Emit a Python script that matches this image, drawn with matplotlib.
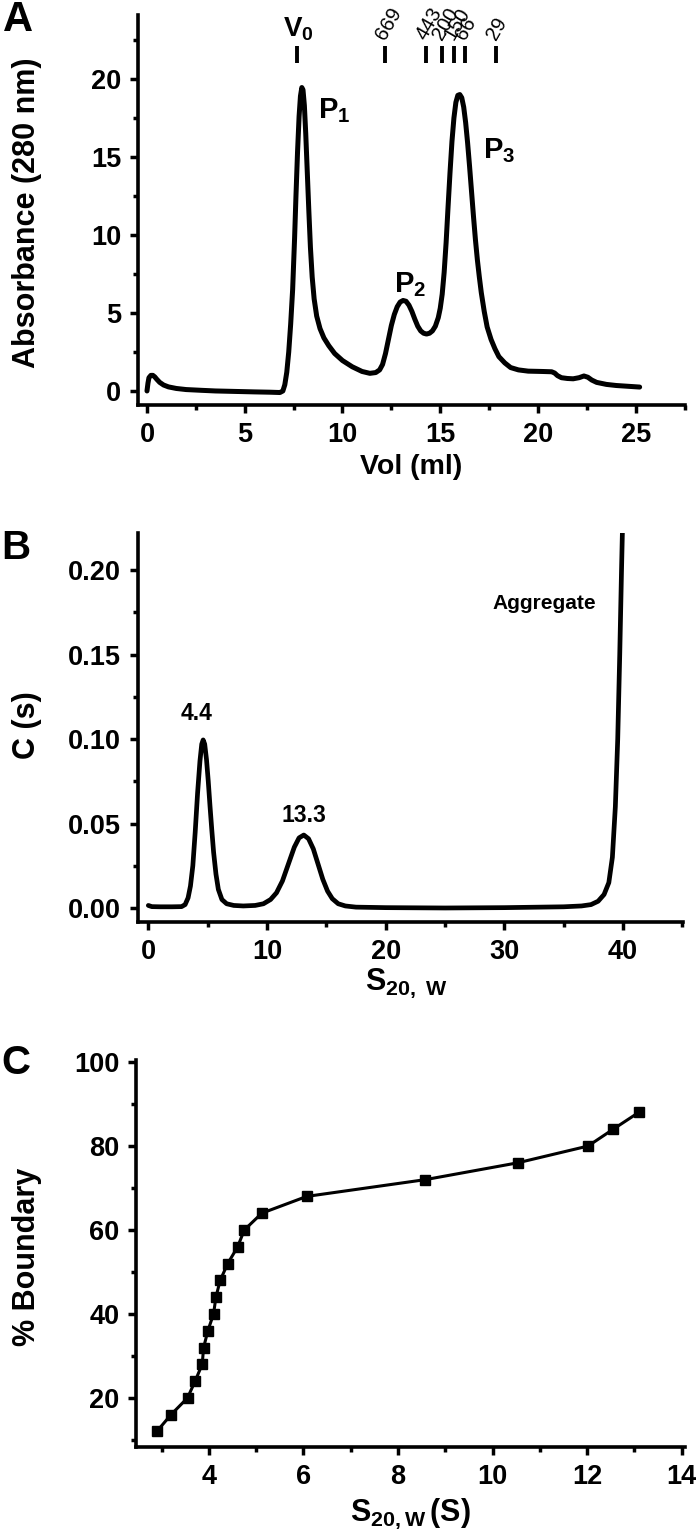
import matplotlib
matplotlib.use("Agg")
import matplotlib.pyplot as plt
from matplotlib.ticker import MultipleLocator, FormatStrFormatter

# ---- panel A : gel filtration profile ----
vol_ml = [0.0, 0.05, 0.1, 0.2, 0.3, 0.4, 0.5, 0.65, 0.85, 1.1, 1.5, 2.0, 2.8, 3.5, 4.5, 5.5, 6.3,
          6.8, 6.95, 7.05, 7.15, 7.25, 7.35, 7.45, 7.55, 7.62, 7.7, 7.78, 7.85, 7.92, 7.98,
          8.05, 8.12, 8.2, 8.28, 8.36, 8.45, 8.55, 8.68, 8.85, 9.05, 9.3, 9.6, 10.0, 10.5,
          11.0, 11.4, 11.7, 11.9, 12.05, 12.2, 12.35, 12.5, 12.65, 12.8, 12.95, 13.1, 13.25,
          13.4, 13.55, 13.7, 13.85, 14.0, 14.15, 14.3, 14.45, 14.6, 14.75, 14.9, 15.0, 15.1,
          15.2, 15.3, 15.4, 15.5, 15.6, 15.7, 15.8, 15.9, 16.0, 16.1, 16.2, 16.3, 16.4, 16.5,
          16.6, 16.7, 16.8, 16.9, 17.0, 17.1, 17.25, 17.4, 17.6, 17.8, 18.0, 18.3, 18.6, 19.0,
          19.5, 20.2, 20.7, 20.85, 21.0, 21.2, 21.5, 21.8, 22.1, 22.35, 22.55, 22.75, 23.0,
          23.5, 24.0, 24.6, 25.2]
absorbance = [0.0, 0.5, 0.85, 1.0, 1.0, 0.9, 0.75, 0.55, 0.38, 0.26, 0.16, 0.09, 0.04, 0.0, -0.03,
              -0.06, -0.08, -0.1, 0.0, 0.4, 1.2, 2.5, 4.3, 6.5, 9.8, 12.5, 15.3, 17.6, 18.9,
              19.45, 19.3, 18.3, 16.5, 14.0, 11.5, 9.2, 7.3, 5.9, 4.8, 4.0, 3.4, 2.9, 2.4, 1.95,
              1.55, 1.25, 1.13, 1.18, 1.35, 1.7, 2.4, 3.3, 4.2, 4.9, 5.4, 5.7, 5.8, 5.75, 5.5,
              5.1, 4.6, 4.15, 3.85, 3.7, 3.65, 3.7, 3.85, 4.15, 4.7, 5.3, 6.2, 7.6, 9.5, 11.8,
              14.0, 16.0, 17.5, 18.5, 18.95, 19.0, 18.8, 18.2, 17.2, 15.9, 14.4, 12.8, 11.2, 9.7,
              8.4, 7.3, 6.3, 5.1, 4.1, 3.3, 2.7, 2.2, 1.8, 1.5, 1.35, 1.27, 1.25, 1.23, 1.15,
              0.98, 0.85, 0.8, 0.78, 0.85, 0.96, 0.88, 0.7, 0.55, 0.42, 0.35, 0.3, 0.25]
marker_vol = [7.65, 12.2, 14.25, 15.1, 15.7, 16.25, 17.85]
marker_kda = ["669", "443", "200", "150", "66", "29"]

# ---- panel B : c(s) distribution ----
s_dist = [0.0, 0.3, 1.0, 2.0, 2.8, 3.1, 3.35, 3.55, 3.75, 3.95, 4.15, 4.35, 4.5, 4.62, 4.75,
          4.9, 5.05, 5.2, 5.35, 5.5, 5.7, 5.9, 6.2, 6.6, 7.2, 8.0, 9.0, 9.7, 10.3, 10.8, 11.3,
          11.8, 12.3, 12.7, 13.1, 13.5, 13.9, 14.3, 14.7, 15.1, 15.5, 16.0, 16.6, 17.5, 20.0,
          25.0, 30.0, 35.0, 36.5, 37.3, 37.9, 38.4, 38.8, 39.1, 39.35, 39.55, 39.72, 39.87, 40.0]
c_s = [0.0015, 0.0008, 0.0007, 0.0007, 0.0008, 0.002, 0.006, 0.013, 0.025, 0.045, 0.068, 0.087,
       0.097, 0.0995, 0.097, 0.088, 0.075, 0.06, 0.046, 0.033, 0.02, 0.011, 0.005, 0.0025,
       0.0015, 0.0012, 0.0015, 0.0025, 0.005, 0.009, 0.016, 0.026, 0.036, 0.0415, 0.0432,
       0.041, 0.035, 0.026, 0.017, 0.01, 0.0055, 0.0025, 0.0012, 0.0005, 0.0002, 0.0, 0.0002,
       0.0007, 0.0012, 0.002, 0.004, 0.008, 0.015, 0.03, 0.06, 0.1, 0.15, 0.2, 0.24]

# ---- panel C : boundary distribution ----
s20w = [2.90, 3.20, 3.55, 3.71, 3.86, 3.89, 3.98, 4.10, 4.15, 4.24, 4.40, 4.61, 4.75, 5.12,
        6.07, 8.58, 10.53, 12.02, 12.55, 13.09]
boundary = [12, 16, 20, 24, 28, 32, 36, 40, 44, 48, 52, 56, 60, 64, 68, 72, 76, 80, 84, 88]

plt.rcParams['font.family'] = ['Liberation Sans', 'DejaVu Sans']
plt.rcParams['font.weight'] = 'bold'
plt.rcParams['mathtext.fontset'] = 'custom'
plt.rcParams['mathtext.rm'] = 'Liberation Sans:bold'
plt.rcParams['mathtext.it'] = 'Liberation Sans:bold'
plt.rcParams['mathtext.bf'] = 'Liberation Sans:bold'

W, H = 700, 1537
fig = plt.figure(figsize=(W / 100, H / 100), dpi=100)


def box(x0, y0, x1, y1):
    # pixel box (top-left origin) -> figure fraction
    return [x0 / W, 1 - y1 / H, (x1 - x0) / W, (y1 - y0) / H]


def style(ax):
    for s in ['top', 'right']:
        ax.spines[s].set_visible(False)
    for s in ['left', 'bottom']:
        ax.spines[s].set_linewidth(2.6)
    ax.tick_params(which='major', direction='out', length=6, width=2.5, pad=6, labelsize=19.5)
    ax.tick_params(which='minor', direction='out', length=3.5, width=2.5)
    for lab in ax.get_xticklabels() + ax.get_yticklabels():
        lab.set_fontweight('bold')


def ftext(x, y, s, **kw):
    fig.text(x / W, 1 - y / H, s, ha='center', va='center', **kw)


# ================= A =================
axA = fig.add_axes(box(138, 15, 685, 405))
axA.plot(vol_ml, absorbance, color='black', lw=3.6,
         solid_joinstyle='round', solid_capstyle='round')
axA.set_xlim(-0.46, 27.52)
axA.set_ylim(-0.9, 24.1)
axA.xaxis.set_major_locator(MultipleLocator(5))
axA.xaxis.set_minor_locator(MultipleLocator(2.5))
axA.yaxis.set_major_locator(MultipleLocator(5))
axA.yaxis.set_minor_locator(MultipleLocator(2.5))
style(axA)
axA.vlines(marker_vol, 21.0, 22.1, color='black', lw=2.8)
axA.text(marker_vol[0] - 0.7, 23.2, r'$\mathrm{V}_0$', fontsize=20, ha='left', va='center')
for xv, lab in zip(marker_vol[1:], marker_kda):
    axA.text(xv - 0.25, 22.6, lab, fontsize=14.5, fontweight='normal', rotation=60,
             rotation_mode='anchor', ha='left', va='center')
axA.text(8.75, 18.0, r'$\mathrm{P}_1$', fontsize=21, ha='left', va='center')
axA.text(12.65, 6.8, r'$\mathrm{P}_2$', fontsize=21, ha='left', va='center')
axA.text(17.2, 15.4, r'$\mathrm{P}_3$', fontsize=21, ha='left', va='center')
ftext(27, 213, 'Absorbance (280 nm)', rotation=90, fontsize=22)
ftext(411, 467, 'Vol (ml)', fontsize=20.5)
ftext(18, 20, 'A', fontsize=30)

# ================= B =================
axB = fig.add_axes(box(138, 533, 683, 922))
axB.plot(s_dist, c_s, color='black', lw=3.4,
         solid_joinstyle='round', solid_capstyle='round')
axB.set_xlim(-0.87, 45.05)
axB.set_ylim(-0.0083, 0.222)
axB.xaxis.set_major_locator(MultipleLocator(10))
axB.xaxis.set_minor_locator(MultipleLocator(5))
axB.yaxis.set_major_locator(MultipleLocator(0.05))
axB.yaxis.set_minor_locator(MultipleLocator(0.025))
axB.yaxis.set_major_formatter(FormatStrFormatter('%.2f'))
style(axB)
axB.text(4.1, 0.115, '4.4', fontsize=16.5, ha='center', va='center')
axB.text(13.15, 0.055, '13.3', fontsize=16.5, ha='center', va='center')
axB.text(33.4, 0.180, 'Aggregate', fontsize=15, ha='center', va='center')
ftext(27, 725, 'C (s)', rotation=90, fontsize=22)
ftext(406, 983, r'$\mathrm{S}_{\mathrm{20,\ W}}$', fontsize=22)
ftext(16, 548, 'B', fontsize=29)

# ================= C =================
axC = fig.add_axes(box(136, 1060, 685, 1447))
axC.plot(s20w, boundary, color='black', lw=2.2, marker='s', markersize=7,
         solid_joinstyle='round')
axC.set_xlim(2.46, 14.07)
axC.set_ylim(8.3, 100.5)
axC.xaxis.set_major_locator(MultipleLocator(2))
axC.xaxis.set_minor_locator(MultipleLocator(1))
axC.yaxis.set_major_locator(MultipleLocator(20))
axC.yaxis.set_minor_locator(MultipleLocator(10))
style(axC)
ftext(27, 1257, '% Boundary', rotation=90, fontsize=22)
ftext(410, 1514, r'$\mathrm{S}_{\mathrm{20,W}}\,\mathrm{(S)}$', fontsize=22)
ftext(16, 1063, 'C', fontsize=29)

fig.savefig('out.png', dpi=100)
